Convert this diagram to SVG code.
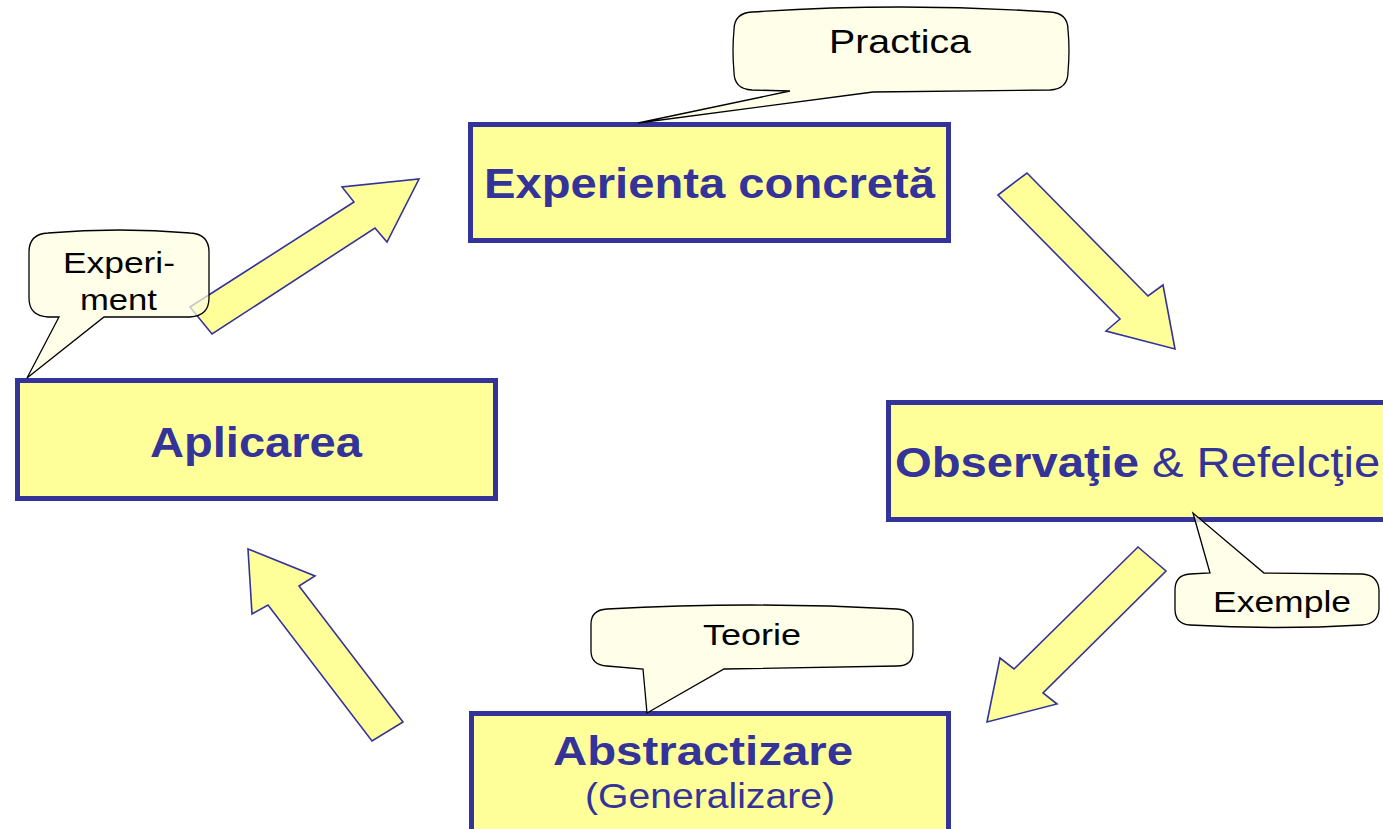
<svg xmlns="http://www.w3.org/2000/svg" width="1383" height="829" viewBox="0 0 1383 829">
<style>
.box{fill:#FFFF99;stroke:#333399;stroke-width:5}
.arr{fill:#FFFF99;stroke:#333399;stroke-width:1.6;stroke-linejoin:miter}
.bub{fill:#FFFFE0;fill-opacity:0.72;stroke:#000;stroke-width:1.3;stroke-linejoin:miter}
.bt{font-family:"Liberation Sans",Arial,sans-serif;font-weight:bold;fill:#333399}
.rt{font-family:"Liberation Sans",Arial,sans-serif;fill:#333399}
.ct{font-family:"Liberation Sans",Arial,sans-serif;fill:#000}
</style>
<rect width="1383" height="829" fill="#fff"/>
<g id="n-experienta">
<rect class="box" x="470.5" y="124.5" width="478" height="116"/>
<text class="bt" x="484" y="198" font-size="42" textLength="451" lengthAdjust="spacingAndGlyphs">Experienta concretă</text>
</g>
<g id="n-aplicarea">
<rect class="box" x="17.5" y="380.5" width="478" height="118"/>
<text class="bt" x="150" y="457" font-size="43" textLength="212" lengthAdjust="spacingAndGlyphs">Aplicarea</text>
</g>
<g id="n-observatie">
<rect class="box" x="888.5" y="402.5" width="510" height="117"/>
<text class="bt" x="895" y="477" font-size="42" textLength="244" lengthAdjust="spacingAndGlyphs">Observaţie</text>
<text class="rt" transform="translate(1152,477) scale(1.124,1)" font-size="42">&amp; Refelcţie</text>
</g>
<g id="n-abstractizare">
<rect class="box" x="471.5" y="713.5" width="477" height="118"/>
<text class="bt" x="553" y="765" font-size="41" textLength="300" lengthAdjust="spacingAndGlyphs">Abstractizare</text>
<text class="rt" x="585" y="808" font-size="35" textLength="250" lengthAdjust="spacingAndGlyphs">(Generalizare)</text>
</g>
<g id="connectors">
<polygon class="arr" points="190,307 354,202 342,187 419,179 387,242 375,228 212,334"/>
<polygon class="arr" points="998,195 1027,173 1148,296 1163,285 1175,349 1106,331 1120,319"/>
<polygon class="arr" points="1138,547 1166,571 1043,693 1057,704 987,722 1000,658 1014,669"/>
<polygon class="arr" points="248,549 315,576 299,586 403,722 372,741 268,605 252,614"/>
</g>
<g id="c-practica">
<path class="bub" d="M752,12 Q901,2 1050,12 Q1068,13 1068,30 Q1070,50 1068,72 Q1068,89 1050,90 L873,92 L638,123 L790,91 L752,90 Q734,89 734,72 Q732,50 734,30 Q734,13 752,12 Z"/>
<text class="ct" x="829" y="53" font-size="33" textLength="142" lengthAdjust="spacingAndGlyphs">Practica</text>
</g>
<g id="c-experiment">
<path class="bub" d="M48,233 Q119,227 190,233 Q209,234 209,252 L209,298 Q209,316 190,317 L104,317 L27,378 L59,317 L48,317 Q29,316 29,298 L29,252 Q29,234 48,233 Z"/>
<text class="ct" x="63" y="273" font-size="29" textLength="112" lengthAdjust="spacingAndGlyphs">Experi-</text>
<text class="ct" x="80" y="310" font-size="29" textLength="77" lengthAdjust="spacingAndGlyphs">ment</text>
</g>
<g id="c-teorie">
<path class="bub" d="M607,609 Q752,601 897,609 Q913,610 913,624 L913,651 Q913,666 897,666 L724,669 L647,713 L643,669 L607,666 Q591,665 591,651 L591,624 Q591,610 607,609 Z"/>
<text class="ct" x="703" y="645" font-size="30" textLength="98" lengthAdjust="spacingAndGlyphs">Teorie</text>
</g>
<g id="c-exemple">
<path class="bub" d="M1190,574 L1210,573 L1193,513 L1264,573 L1362,574 Q1378,575 1379,590 L1379,609 Q1378,624 1362,625 Q1277,630 1190,625 Q1175,624 1175,609 L1175,590 Q1175,575 1190,574 Z"/>
<text class="ct" x="1213" y="612" font-size="30" textLength="138" lengthAdjust="spacingAndGlyphs">Exemple</text>
</g>
</svg>
